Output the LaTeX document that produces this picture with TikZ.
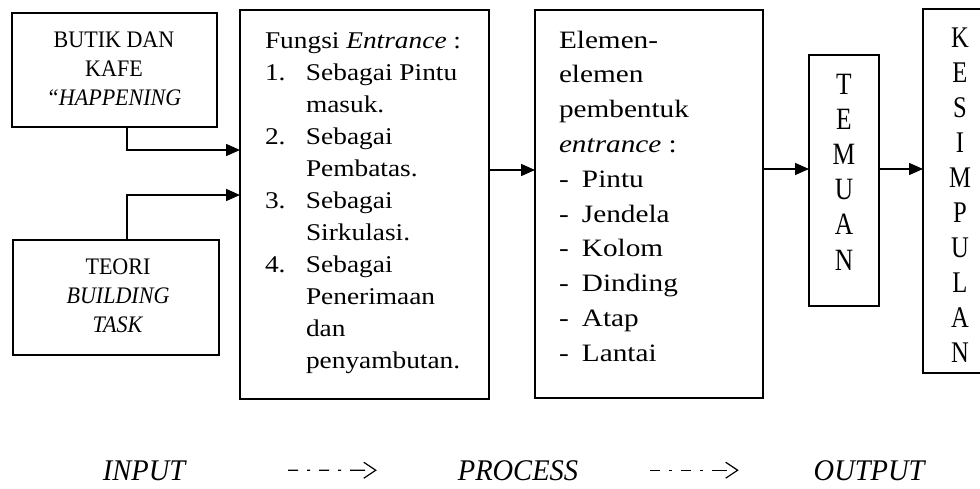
\documentclass[tikz,border=0pt]{standalone}
\usepackage{fontspec}
\usetikzlibrary{arrows.meta}
\setmainfont{Liberation Serif}
\newfontfamily\fA[FakeStretch=0.93]{Liberation Serif}
\newfontfamily\fB[FakeStretch=1.14]{Liberation Serif}
\newfontfamily\fC[FakeStretch=1.17]{Liberation Serif}
\newfontfamily\fD[FakeStretch=0.82]{Liberation Serif}
\newfontfamily\fE[FakeStretch=0.95]{Liberation Serif}
\newcommand\mystack[2]{\begin{tabular}[t]{@{}#1@{}}#2\end{tabular}}
\newcommand\numb[1]{\makebox[41pt][l]{#1}}
\newcommand\ind{\hspace*{41pt}}
\newcommand\dsh{\makebox[23pt][l]{-}}
\tikzset{
  blk/.style={draw, line width=1.5pt, rectangle, inner sep=0pt, outer sep=0pt},
  link/.style={line width=1.5pt, -{Triangle[length=14pt,width=12pt]}},
  flow/.style={line width=1.2pt, dash pattern=on 10pt off 9pt on 3pt off 9pt on 10pt off 9pt on 3pt off 9pt on 15pt off 40pt, -{Straight Barb[length=12pt,width=16pt,line width=1.2pt]}},
  lbl/.style={inner sep=0pt, outer sep=0pt, anchor=base},
}
\begin{document}
\begin{tikzpicture}[x=1pt,y=-1pt]
\useasboundingbox (0,0) rectangle (980,488);
\clip (0,0) rectangle (980,488);
% boxes
\node[blk, minimum width=205pt, minimum height=114pt] (b1) at (114.5,70) {};
\node[blk, minimum width=206pt, minimum height=115pt] (b2) at (116,297.5) {};
\node[blk, minimum width=249pt, minimum height=389pt] (b3) at (364.5,204.5) {};
\node[blk, minimum width=228pt, minimum height=388pt] (b4) at (649,204) {};
\node[blk, minimum width=70pt, minimum height=251pt] (b5) at (844,180.5) {};
\node[blk, minimum width=77pt, minimum height=364pt] (b6) at (961.5,191) {};
% texts
\node[lbl] (t1) at (114,47) {\fA\fontsize{23.7}{29}\selectfont\mystack{c}{BUTIK DAN\\KAFE\\\textit{“HAPPENING}}};
\node[lbl] (t2) at (118,274) {\fA\fontsize{23.7}{29}\selectfont\mystack{c}{TEORI\\\textit{BUILDING}\\\textit{TASK}}};
\node[lbl, anchor=base west] (t3) at (265,48) {\fB\fontsize{24}{32}\selectfont\mystack{l}{Fungsi \textit{Entrance} :\\\numb{1.}Sebagai Pintu\\\ind masuk.\\\numb{2.}Sebagai\\\ind Pembatas.\\\numb{3.}Sebagai\\\ind Sirkulasi.\\\numb{4.}Sebagai\\\ind Penerimaan\\\ind dan\\\ind penyambutan.}};
\node[lbl, anchor=base west] (t4) at (559,48) {\fC\fontsize{25}{34.8}\selectfont\mystack{l}{Elemen-\\elemen\\pembentuk\\\textit{entrance} :\\\dsh Pintu\\\dsh Jendela\\\dsh Kolom\\\dsh Dinding\\\dsh Atap\\\dsh Lantai}};
\node[lbl] (t5) at (844,94) {\fD\fontsize{31}{35.2}\selectfont\mystack{c}{T\\E\\M\\U\\A\\N}};
\node[lbl] (t6) at (960,47) {\fD\fontsize{30}{35}\selectfont\mystack{c}{K\\E\\S\\I\\M\\P\\U\\L\\A\\N}};
% connectors
\draw[link] ([xshift=12.5pt]b1.south) |- (b3.west |- 0,150);
\draw[link] ([xshift=11pt]b2.north) |- (b3.west |- 0,195);
\draw[link] (b3.east |- 0,170) -- (b4.west |- 0,170);
\draw[link] (b4.east |- 0,169) -- (b5.west |- 0,169);
\draw[link] (b5.east |- 0,169) -- (b6.west |- 0,169);
% bottom row
\node[lbl] (inp) at (145,480) {\fE\fontsize{30}{36}\selectfont\textit{INPUT}};
\node[lbl] (proc) at (518,480) {\fE\fontsize{30}{36}\selectfont\textit{PROCESS}};
\node[lbl] (outp) at (870,480) {\fE\fontsize{30}{36}\selectfont\textit{OUTPUT}};
\draw[flow, shorten <=101pt, shorten >=81pt] (inp) -- (proc);
\draw[flow, shorten <=72pt, shorten >=75pt] (proc) -- (outp);
\end{tikzpicture}
\end{document}
